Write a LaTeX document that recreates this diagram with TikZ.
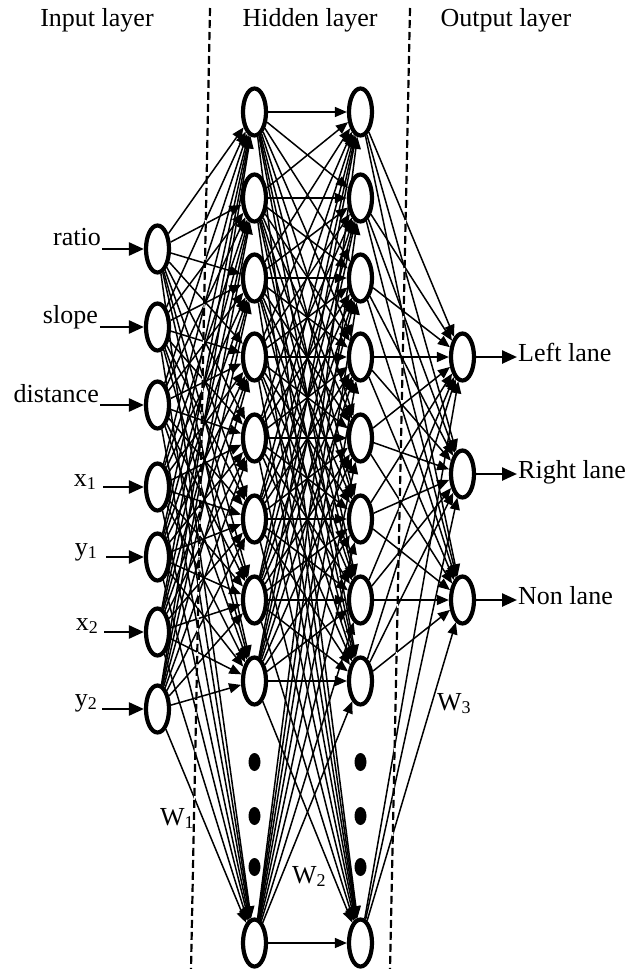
\documentclass[tikz,border=0pt]{standalone}
\usepackage{fontspec}
\setmainfont{Liberation Serif}
\usetikzlibrary{shapes.geometric,arrows.meta}
% small lowered index, as in x1, W1
\newcommand\lowidx[1]{\raisebox{-3pt}{\fontsize{18}{18}\selectfont #1}}
\tikzset{
  neuron/.style={ellipse, draw, line width=4.2pt, fill=white,
    minimum width=23pt, minimum height=47pt, inner sep=0pt},
  dotmark/.style={ellipse, fill, minimum width=12pt, minimum height=18pt, inner sep=0pt},
  link/.style={line width=1.5pt, -{Triangle[length=12pt,width=10pt]}},
  feed/.style={line width=2.5pt, -{Triangle[length=15pt,width=13pt]}},
  lbl/.style={font=\fontsize{26}{30}\selectfont, inner sep=0pt},
  sepline/.style={line width=2.2pt, dash pattern=on 8pt off 4pt},
}
\begin{document}
\begin{tikzpicture}[x=1pt,y=-1pt]
\useasboundingbox (0,0) rectangle (643,969);

% layer titles
\node[lbl, anchor=base] (tin)  at (97,27)  {Input layer};
\node[lbl, anchor=base] (thid) at (310,27) {Hidden layer};
\node[lbl, anchor=base] (tout) at (506,27) {Output layer};

% input neurons
\foreach \y [count=\k] in {249,327,405,487,557,632,709}
  \node[neuron] (i\k) at (157.5,\y) {};

% hidden neurons, two columns
\foreach \y [count=\k] in {112,198,278,357,438,519,600,681,943} {
  \node[neuron] (h\k) at (254.5,\y) {};
  \node[neuron] (g\k) at (360.5,\y) {};
}

% ellipsis dots
\foreach \y [count=\k] in {762,816,867} {
  \node[dotmark] (hd\k) at (254.5,\y) {};
  \node[dotmark] (gd\k) at (360.5,\y) {};
}

% output neurons
\foreach \y [count=\k] in {357,474,600}
  \node[neuron] (o\k) at (462.5,\y) {};

% weights
\foreach \a in {1,...,7}
  \foreach \b in {1,...,9}
    \draw[link] (i\a) -- (h\b);
\foreach \a in {1,...,9}
  \foreach \b in {1,...,9}
    \draw[link] (h\a) -- (g\b);
\foreach \a in {1,...,9}
  \foreach \b in {1,...,3}
    \draw[link] (g\a) -- (o\b);

% inputs
\node[lbl, anchor=base east] (lratio) at (101,245) {ratio};
\node[lbl, anchor=base east] (lslope) at (98,323) {slope};
\node[lbl, anchor=base east] (ldist)  at (99,402) {distance};
\node[lbl, anchor=base east] (lx1) at (96,486) {x\lowidx{1}};
\node[lbl, anchor=base east] (ly1) at (97,555) {y\lowidx{1}};
\node[lbl, anchor=base east] (lx2) at (98,630) {x\lowidx{2}};
\node[lbl, anchor=base east] (ly2) at (97,706) {y\lowidx{2}};
\foreach \y/\x [count=\k] in {249/102,327/100,405/100,487/103,557/106,632/104,709/102} {
  \coordinate (s\k) at (\x,\y);
  \draw[feed] (s\k) -- (i\k);
}

% outputs
\foreach \y [count=\k] in {357,474,600} {
  \coordinate (e\k) at (517,\y);
  \draw[feed] (o\k) -- (e\k);
}
\node[lbl, anchor=base west] (lleft)  at (518,361) {Left lane};
\node[lbl, anchor=base west] (lright) at (518,478) {Right lane};
\node[lbl, anchor=base west] (lnon)   at (518,604) {Non lane};

% weight labels
\node[lbl, anchor=base west] (w1) at (160,825) {W\lowidx{1}};
\node[lbl, anchor=base west] (w2) at (292,883) {W\lowidx{2}};
\node[lbl, anchor=base west] (w3) at (437,710) {W\lowidx{3}};

% layer separators
\coordinate (d1a) at (210,8);   \coordinate (d1b) at (191,969);
\coordinate (d2a) at (410,8);   \coordinate (d2b) at (390,969);
\draw[white, line width=1.2pt] (d1a) -- (d1b) (d2a) -- (d2b);
\draw[sepline] (d1a) -- (d1b) (d2a) -- (d2b);
\end{tikzpicture}
\end{document}
